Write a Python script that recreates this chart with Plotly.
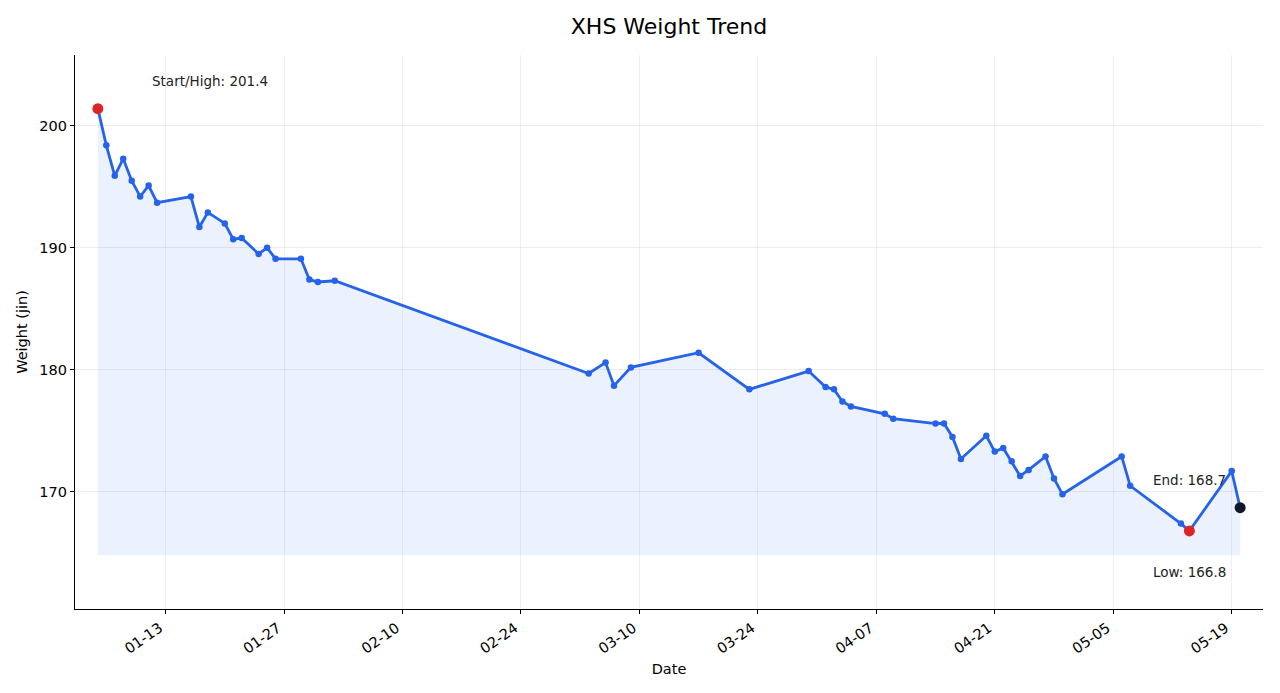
import plotly.graph_objects as go
import pandas as pd

dates = [
    "2025-01-05", "2025-01-06", "2025-01-07", "2025-01-08", "2025-01-09", "2025-01-10",
    "2025-01-11", "2025-01-12", "2025-01-16", "2025-01-17", "2025-01-18", "2025-01-20",
    "2025-01-21", "2025-01-22", "2025-01-24", "2025-01-25", "2025-01-26", "2025-01-29",
    "2025-01-30", "2025-01-31", "2025-02-02", "2025-03-04", "2025-03-06", "2025-03-07",
    "2025-03-09", "2025-03-17", "2025-03-23", "2025-03-30", "2025-04-01", "2025-04-02",
    "2025-04-03", "2025-04-04", "2025-04-08", "2025-04-09", "2025-04-14", "2025-04-15",
    "2025-04-16", "2025-04-17", "2025-04-20", "2025-04-21", "2025-04-22", "2025-04-23",
    "2025-04-24", "2025-04-25", "2025-04-27", "2025-04-28", "2025-04-29", "2025-05-06",
    "2025-05-07", "2025-05-13", "2025-05-14", "2025-05-19", "2025-05-20",
]
weights = [
    201.4, 198.4, 195.9, 197.3, 195.5, 194.2,
    195.1, 193.7, 194.2, 191.7, 192.9, 192.0,
    190.7, 190.8, 189.5, 190.0, 189.1, 189.1,
    187.4, 187.2, 187.3, 179.7, 180.6, 178.7,
    180.2, 181.4, 178.4, 179.9, 178.6, 178.4,
    177.4, 177.0, 176.4, 176.0, 175.6, 175.6,
    174.5, 172.7, 174.6, 173.3, 173.6, 172.5,
    171.3, 171.8, 172.9, 171.1, 169.8, 172.9,
    170.5, 167.4, 166.8, 171.7, 168.7,
]
x_ticks = ["2025-01-13", "2025-01-27", "2025-02-10", "2025-02-24", "2025-03-10",
           "2025-03-24", "2025-04-07", "2025-04-21", "2025-05-05", "2025-05-19"]
y_ticks = [170, 180, 190, 200]

BLUE = "#2563eb"
RED = "#dc2626"
DARK = "#111827"
FONT = "DejaVu Sans"

d = pd.to_datetime(dates)
hi_i = max(range(len(weights)), key=lambda i: weights[i])
lo_i = min(range(len(weights)), key=lambda i: weights[i])
base = min(weights) - 2

span = d[-1] - d[0]
xr = [d[0] - span * 0.02, d[-1] + span * 0.02]

fig = go.Figure()
fig.add_trace(go.Scatter(x=d, y=[base] * len(d), mode="lines",
                         line=dict(width=0, color="rgba(0,0,0,0)"),
                         hoverinfo="skip", showlegend=False))
fig.add_trace(go.Scatter(x=d, y=weights, mode="lines", fill="tonexty",
                         fillcolor="rgba(37,99,235,0.09)",
                         line=dict(width=0, color="rgba(0,0,0,0)"),
                         hoverinfo="skip", showlegend=False))
fig.add_trace(go.Scatter(x=d, y=weights, mode="lines+markers",
                         line=dict(color=BLUE, width=2.8),
                         marker=dict(color=BLUE, size=6.5),
                         showlegend=False))
fig.add_trace(go.Scatter(x=[d[0], d[lo_i]], y=[weights[0], weights[lo_i]], mode="markers",
                         marker=dict(color=RED, size=11), showlegend=False))
fig.add_trace(go.Scatter(x=[d[-1]], y=[weights[-1]], mode="markers",
                         marker=dict(color=DARK, size=11), showlegend=False))

ann_font = dict(family=FONT, size=13.5, color="#222222")
fig.add_annotation(x=d[0], y=weights[0], text=f"Start/High: {weights[hi_i]:.1f}",
                   showarrow=False, xanchor="left", yanchor="middle",
                   xshift=52, yshift=28, font=ann_font)
fig.add_annotation(x=d[-1], y=weights[-1], text=f"End: {weights[-1]:.1f}",
                   showarrow=False, xanchor="right", yanchor="middle",
                   xshift=-12, yshift=28, font=ann_font)
fig.add_annotation(x=d[lo_i], y=weights[lo_i], text=f"Low: {weights[lo_i]:.1f}",
                   showarrow=False, xanchor="center", yanchor="middle",
                   xshift=0, yshift=-41, font=ann_font)

fig.update_layout(
    width=1280, height=693,
    margin=dict(l=75, r=17, t=55, b=84),
    paper_bgcolor="white", plot_bgcolor="white",
    font=dict(family=FONT, size=14, color="#000000"),
    title=dict(text="XHS Weight Trend", x=(75 + 1263) / 2 / 1280, xanchor="center",
               y=1 - 26 / 693, yanchor="middle", font=dict(family=FONT, size=22, color="#000")),
    showlegend=False,
)
fig.update_xaxes(
    range=xr, tickvals=pd.to_datetime(x_ticks), tickformat="%m-%d", tickangle=-35,
    showline=True, linecolor="#000", linewidth=1.2, ticks="outside", ticklen=4,
    tickcolor="#000", showgrid=True, gridcolor="rgba(0,0,0,0.06)", gridwidth=1,
    zeroline=False, title=dict(text="Date", font=dict(size=14.5), standoff=8),
    tickfont=dict(size=14.5), ticklabelshift=-6,
)
fig.update_yaxes(
    range=[160.4, 205.8], tickvals=y_ticks,
    showline=True, linecolor="#000", linewidth=1.2, ticks="outside", ticklen=4,
    tickcolor="#000", showgrid=True, gridcolor="rgba(0,0,0,0.07)", gridwidth=1,
    zeroline=False, title=dict(text="Weight (jin)", font=dict(size=14.5), standoff=8),
    tickfont=dict(size=14.5),
)

fig.write_html("out.html")
